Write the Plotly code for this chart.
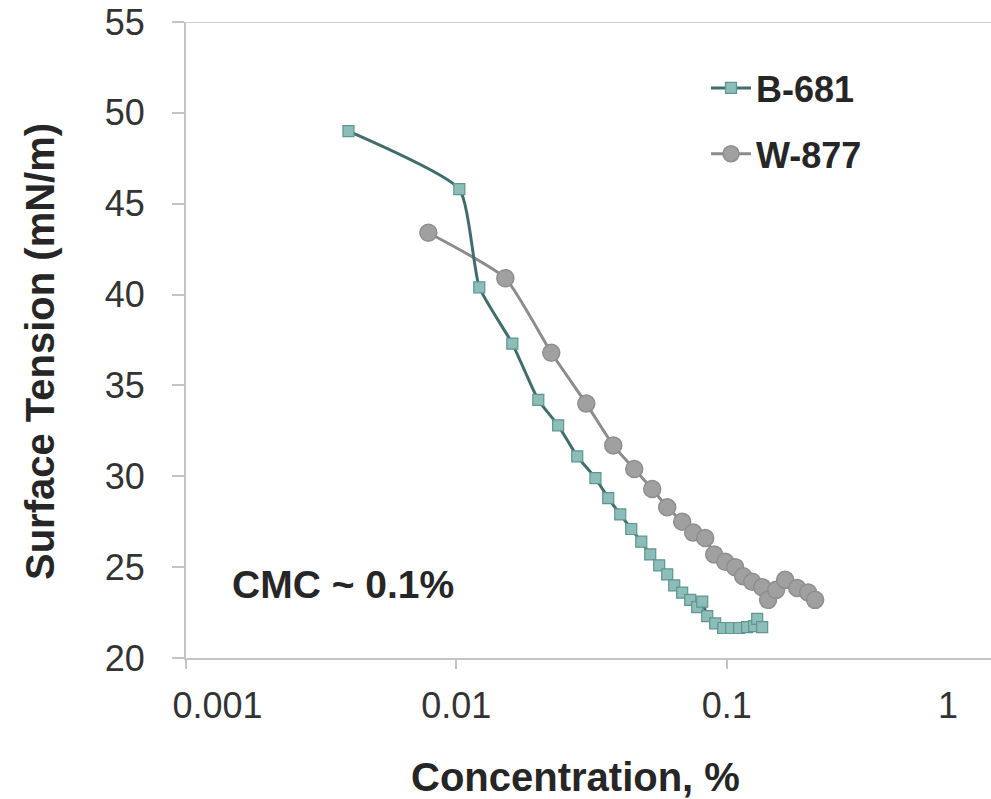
import plotly.graph_objects as go

# Surface tension vs. concentration for two surfactants
b681_conc = [0.00399, 0.01026, 0.01216, 0.01611, 0.0201, 0.0238, 0.0280, 0.0327,
             0.03646, 0.04039, 0.04436, 0.04831, 0.05215, 0.05630, 0.06026, 0.06398,
             0.06846, 0.07330, 0.07780, 0.08119, 0.08473, 0.09069, 0.09706, 0.1039,
             0.1112, 0.1190, 0.1264, 0.1297, 0.1353]
b681_st = [49.0, 45.8, 40.4, 37.3, 34.2, 32.8, 31.1, 29.9,
           28.8, 27.9, 27.1, 26.4, 25.7, 25.1, 24.6, 24.0,
           23.6, 23.2, 22.8, 23.1, 22.3, 21.9, 21.65, 21.65,
           21.65, 21.7, 21.75, 22.15, 21.7]

w877_conc = [0.00788, 0.01518, 0.02245, 0.03025, 0.03806, 0.04550, 0.05304, 0.06026,
             0.06846, 0.07517, 0.08328, 0.08993, 0.09874, 0.1075, 0.1151, 0.1243,
             0.1353, 0.1423, 0.1524, 0.1646, 0.1823, 0.2001, 0.2124]
w877_st = [43.4, 40.9, 36.8, 34.0, 31.7, 30.4, 29.3, 28.3,
           27.5, 26.9, 26.6, 25.7, 25.3, 25.0, 24.5, 24.2,
           23.9, 23.2, 23.75, 24.3, 23.85, 23.6, 23.2]

x_ticks = [0.001, 0.01, 0.1, 1]
x_tick_text = ["0.001", "0.01", "0.1", "1"]
y_ticks = [20, 25, 30, 35, 40, 45, 50, 55]

W, H = 991, 799
L, R, T, B = 186, 0, 22, 141
pw = W - L - R
ph = H - T - B

x_range = [-3, -0.0222]

FONT = "Liberation Sans, Arial, sans-serif"
AXIS_GREY = "#c4c4c4"
TEXT = "#262626"

fig = go.Figure()

fig.add_trace(go.Scatter(
    x=w877_conc, y=w877_st, name="W-877", mode="lines+markers",
    line=dict(color="#8c8c8c", width=3, shape="spline", smoothing=0.5),
    marker=dict(symbol="circle", size=17, color="#a0a0a0",
                line=dict(color="#8e8e8e", width=1.5)),
    legendgroup="w", legendrank=2,
))
fig.add_trace(go.Scatter(
    x=b681_conc, y=b681_st, name="B-681", mode="lines+markers",
    line=dict(color="#3f6e6c", width=3, shape="spline", smoothing=0.5),
    marker=dict(symbol="square", size=11, color="#8dbdb8",
                line=dict(color="#5f9591", width=1.2)),
    legendgroup="b", legendrank=1,
))
# carrier for the label axis
fig.add_trace(go.Scatter(x=[], y=[], xaxis="x2", showlegend=False, hoverinfo="skip"))

# tick labels sit slightly inward at the outer decades
label_pos = [0.001307, 0.01, 0.1, 0.659]

fig.update_layout(
    width=W, height=H,
    margin=dict(l=L, r=R, t=T, b=B, autoexpand=False),
    paper_bgcolor="white", plot_bgcolor="white",
    font=dict(family=FONT, color=TEXT),
    showlegend=True,
    legend=dict(
        x=(706 - L) / pw, y=1 - (58 - T) / ph, xanchor="left", yanchor="top",
        font=dict(family=FONT, size=36, color=TEXT, weight="bold"),
        traceorder="grouped", tracegroupgap=16,
        bgcolor="rgba(0,0,0,0)", itemwidth=40,
    ),
    xaxis=dict(
        type="log", range=x_range, tickvals=x_ticks[:3], showticklabels=False,
        ticks="outside", ticklen=9, tickcolor=AXIS_GREY, tickwidth=2,
        showline=True, linecolor=AXIS_GREY, linewidth=2,
        showgrid=False, zeroline=False,
    ),
    xaxis2=dict(
        type="log", range=x_range, overlaying="x", anchor="y", side="bottom",
        tickvals=label_pos, ticktext=x_tick_text, ticks="",
        showline=False, showgrid=False, zeroline=False,
        tickfont=dict(family=FONT, size=36, color="#333333"),
        ticklabelstandoff=23,
    ),
    yaxis=dict(
        range=[20, 55], tickvals=y_ticks,
        ticks="outside", ticklen=12, tickcolor=AXIS_GREY, tickwidth=2,
        showline=True, linecolor=AXIS_GREY, linewidth=2,
        showgrid=False, zeroline=False,
        tickfont=dict(family=FONT, size=36, color="#333333"),
        ticklabelstandoff=20,
    ),
    shapes=[dict(type="line", xref="paper", yref="y", x0=0, x1=1, y0=55, y1=55,
                 line=dict(color="#d0d0d0", width=2))],
    annotations=[
        dict(text="<b>Concentration, %</b>", xref="paper", yref="paper",
             x=(575 - L) / pw, y=-(777 - T - ph) / ph, xanchor="center", yanchor="middle",
             showarrow=False, font=dict(family=FONT, size=40, color=TEXT)),
        dict(text="<b>Surface Tension (mN/m)</b>", xref="paper", yref="paper",
             x=(40 - L) / pw, y=1 - (352 - T) / ph, xanchor="center", yanchor="middle",
             textangle=-90, showarrow=False, font=dict(family=FONT, size=40, color=TEXT)),
        dict(text="<b>CMC ~ 0.1%</b>", xref="paper", yref="paper",
             x=(343 - L) / pw, y=1 - (584 - T) / ph, xanchor="center", yanchor="middle",
             showarrow=False, font=dict(family=FONT, size=39, color=TEXT)),
    ],
)

fig.write_html("out.html")
